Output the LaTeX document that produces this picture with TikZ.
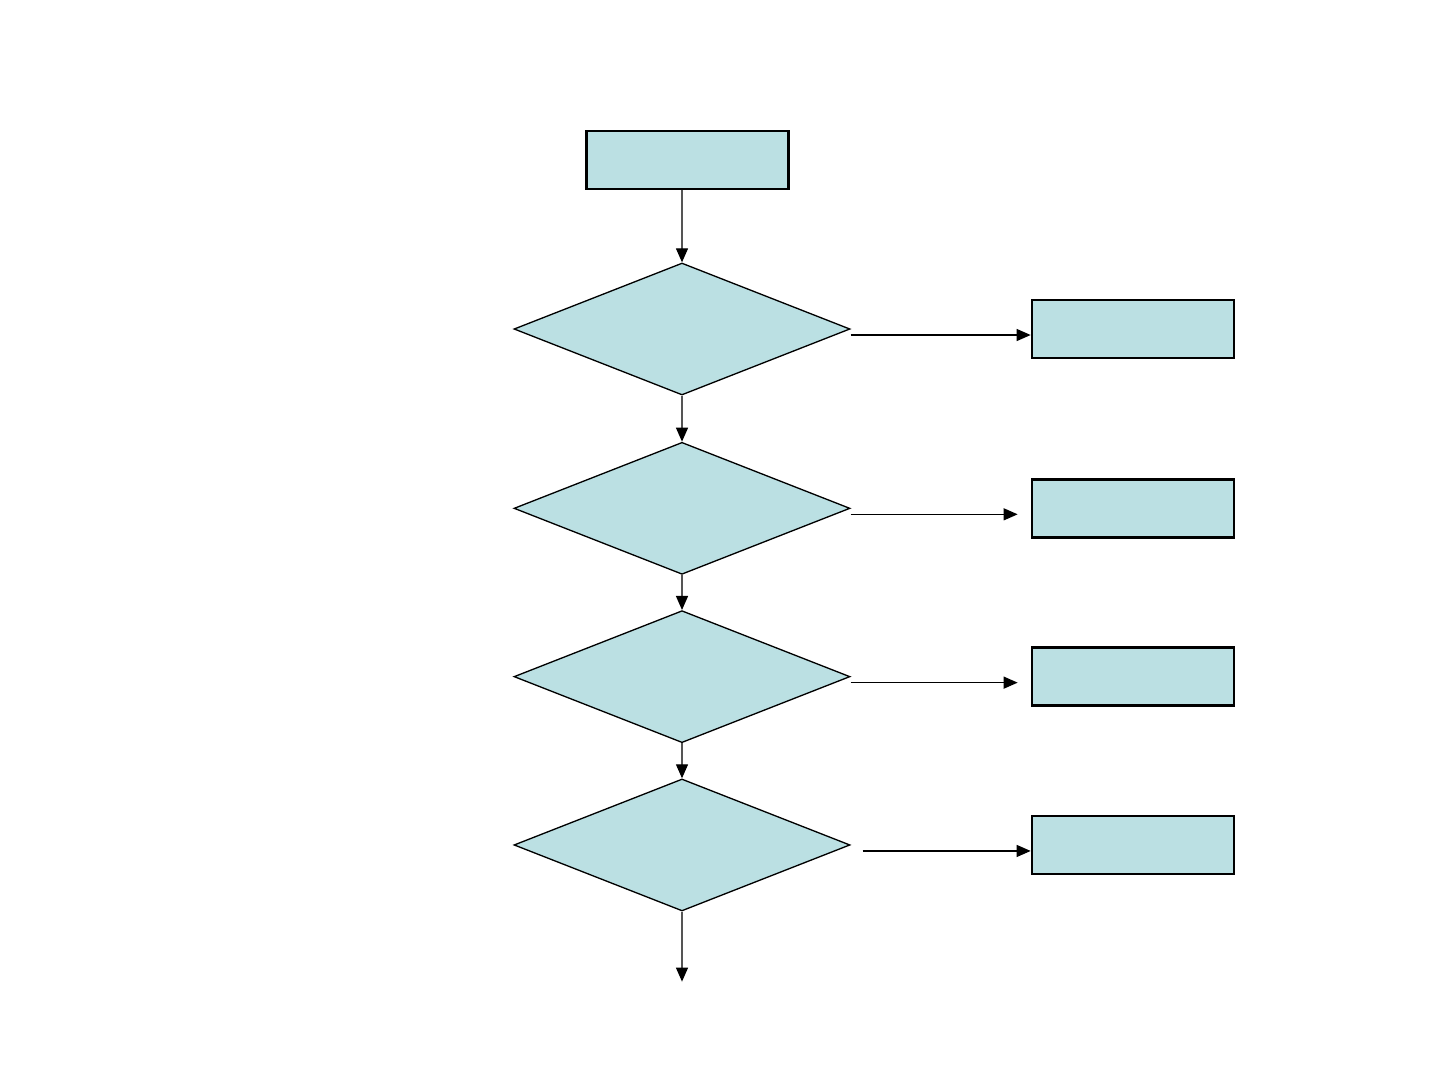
\documentclass[tikz,border=0pt]{standalone}
\usepackage{tikz}
\usetikzlibrary{shapes.geometric,arrows.meta,positioning}
\definecolor{BoxFill}{HTML}{BBE0E3}
\definecolor{ArrGrey}{HTML}{555555}
\tikzset{
  % Base box
  FB/.style={rectangle,draw=black,line width=1.5pt,fill=BoxFill,
             minimum width=4.04cm,minimum height=1.16cm,inner sep=0pt},
  % Base diamond
  DM/.style={diamond,draw=black,line width=0.75pt,fill=BoxFill,
             minimum width=6.72cm,minimum height=2.64cm,inner sep=0pt},
  % Arrows
  arr/.style={-{Triangle[length=0.28cm,width=0.24cm,color=black]},line width=0.7pt},
  varr/.style={arr,ArrGrey},
  harr/.style={arr,black}
}
\begin{document}
\begin{tikzpicture}[node distance=0.70cm and 3.6cm]
  \fill[white] (0,0) rectangle (28.74,-21.58);

  %------ MAIN COLUMN ------
  \node[FB] (start) at (13.75,-3.2) {};
  \node[DM] (dec1) at (13.64,-6.58) {};
  \node[DM,below=0.92cm of dec1] (dec2) {};
  \node[DM,below=of dec2] (dec3) {};
  \node[DM,below=of dec3] (dec4) {};
  \coordinate[below=1.40cm of dec4] (end);

  %------ RIGHT COLUMN ------
  \node[FB,right=of dec1] (out1) {};
  \node[FB,right=of dec2] (out2) {};
  \node[FB,right=of dec3] (out3) {};
  \node[FB,right=of dec4] (out4) {};

  % Main arrows
  \draw[varr](start.south -| dec1.north)--(dec1.north);
  \draw[varr](dec1)--(dec2);
  \draw[varr](dec2)--(dec3);
  \draw[varr](dec3)--(dec4);
  \draw[varr](dec4.south)--(end);

  % Side arrows
  \draw[harr]([yshift=-0.12cm]dec1.east)--([yshift=-0.12cm]dec1.east -| out1.west);
  \draw[harr,shorten >=0.26cm]([yshift=-0.12cm]dec2.east)--([yshift=-0.12cm]dec2.east -| out2.west);
  \draw[harr,shorten >=0.26cm]([yshift=-0.12cm]dec3.east)--([yshift=-0.12cm]dec3.east -| out3.west);
  \draw[harr,shorten <=0.24cm]([yshift=-0.12cm]dec4.east)--([yshift=-0.12cm]dec4.east -| out4.west);
\end{tikzpicture}
\end{document}
